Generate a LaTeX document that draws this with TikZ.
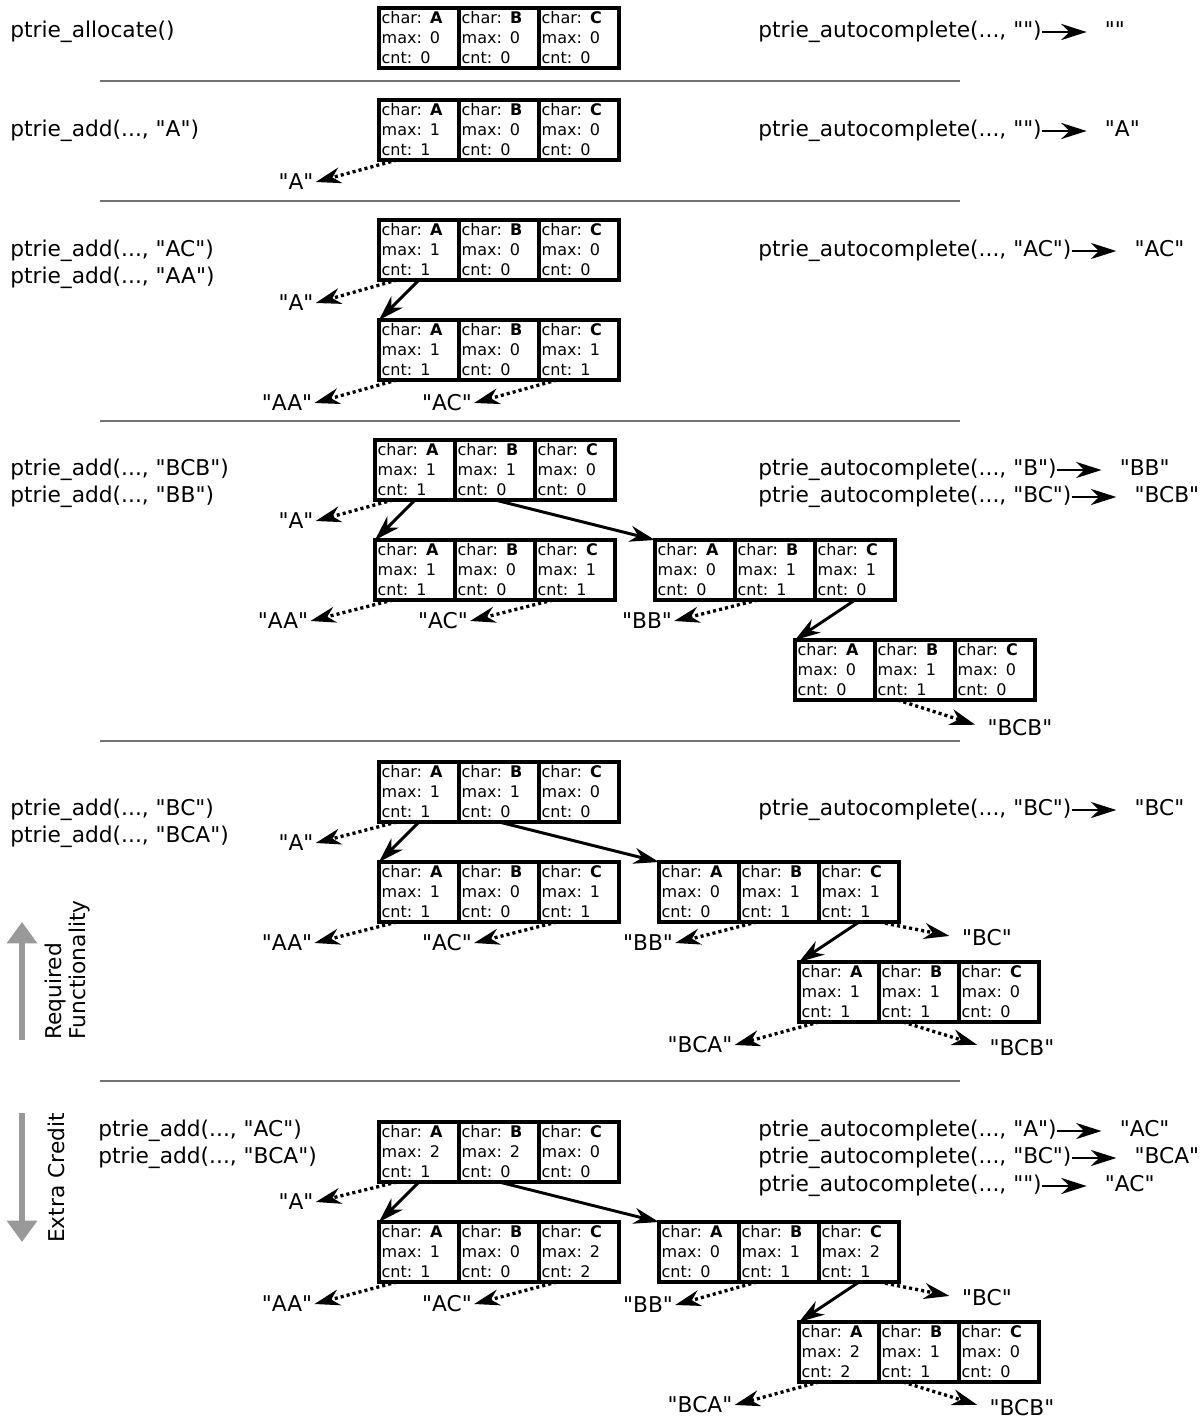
\documentclass[tikz,border=0pt]{standalone}
\usepackage{fontspec}
\setmainfont{DejaVu Sans}[Ligatures=TeXOff]
\usetikzlibrary{arrows.meta,calc}
\tikzset{
 cell/.style={draw, line width=2.6pt, anchor=north west, outer sep=0pt, minimum width=60pt, minimum height=45pt, text width=56pt, inner xsep=2pt, inner ysep=0pt, align=left, font=\fontsize{12}{15}\selectfont},
 big/.style={font=\fontsize{16.3}{20}\selectfont, inner sep=0pt},
 call/.style={big, anchor=west},
 res/.style={big, anchor=base west},
 lbl/.style={big, inner sep=1.5pt},
 tip/.style={-{Stealth[length=19pt,width=12pt,inset=6pt]}},
 child/.style={tip, line width=2.2pt},
 leaf/.style={tip, line width=2.5pt, dash pattern=on 2.3pt off 2.3pt},
 leafr/.style={leaf, shorten >=8pt},
 ret/.style={tip, line width=2.1pt, shorten >=13.5pt},
 sep/.style={line width=1pt, black!55},
 band/.style={line width=4.5pt, black!40, -{Triangle[length=16pt,width=22pt]}},
 bandtext/.style={big, rotate=90, align=left, font=\fontsize{16.3}{18}\selectfont}
}
\newcommand\ptnode[9]{%
  \node[cell] (#1a) at (#2,#3) {char: \textbf{A}\\max: #4\\cnt: #5};
  \node[cell] (#1b) at (#1a.north east) {char: \textbf{B}\\max: #6\\cnt: #7};
  \node[cell] (#1c) at (#1b.north east) {char: \textbf{C}\\max: #8\\cnt: #9};
}
\begin{document}
\begin{tikzpicture}[x=0.75pt,y=-0.75pt]
\useasboundingbox (0,0) rectangle (1200,1427);

% separators
\foreach \yy in {81,201,421,741,1081} \draw[sep] (100,\yy) -- (960,\yy);

% ---------- Section 1
\node[call] (l1) at (10,32) {ptrie\_allocate()};
\ptnode{s1}{379}{8}{0}{0}{0}{0}{0}{0}
\node[call] (c1) at (758,32) {ptrie\_autocomplete(..., "")};
\node[res] (r1) at ([xshift=47pt]c1.base east) {""};
\draw[ret] (c1.east) -- (c1.east -| r1.west);

% ---------- Section 2
\node[call] (l2) at (10,131) {ptrie\_add(..., "A")};
\ptnode{s2}{379}{100}{1}{1}{0}{0}{0}{0}
\node[lbl] (s2l1) at (296,182) {"A"};
\draw[leaf] ([xshift=13.5pt]s2a.south west) -- (s2l1.east);
\node[call] (c2) at (758,131) {ptrie\_autocomplete(..., "")};
\node[res] (r2) at ([xshift=47pt]c2.base east) {"A"};
\draw[ret] (c2.east) -- (c2.east -| r2.west);

% ---------- Section 3
\node[call] (l3a) at (10,251) {ptrie\_add(..., "AC")};
\node[call] (l3b) at (10,278) {ptrie\_add(..., "AA")};
\ptnode{s3}{379}{220}{1}{1}{0}{0}{0}{0}
\ptnode{s3A}{379}{320}{1}{1}{0}{0}{1}{1}
\node[lbl] (s3l1) at (296,303) {"A"};
\node[lbl] (s3l2) at (287,403) {"AA"};
\node[lbl] (s3l3) at (447,403) {"AC"};
\draw[leaf] ([xshift=13.5pt]s3a.south west) -- (s3l1.east);
\draw[child] (s3a.south) -- (s3Aa.north west);
\draw[leaf] ([xshift=13.5pt]s3Aa.south west) -- (s3l2.east);
\draw[leaf] ([xshift=13.5pt]s3Ac.south west) -- (s3l3.east);
\node[call] (c3) at (758,251) {ptrie\_autocomplete(..., "AC")};
\node[res] (r3) at ([xshift=47pt]c3.base east) {"AC"};
\draw[ret] (c3.east) -- (c3.east -| r3.west);

% ---------- Section 4
\node[call] (l4a) at (10,470) {ptrie\_add(..., "BCB")};
\node[call] (l4b) at (10,497) {ptrie\_add(..., "BB")};
\ptnode{s4}{375}{440}{1}{1}{1}{0}{0}{0}
\ptnode{s4A}{375}{540}{1}{1}{0}{0}{1}{1}
\ptnode{s4B}{655}{540}{0}{0}{1}{1}{1}{0}
\ptnode{s4C}{795}{640}{0}{0}{1}{1}{0}{0}
\node[lbl] (s4l1) at (296,521) {"A"};
\node[lbl] (s4l2) at (283,621) {"AA"};
\node[lbl] (s4l3) at (443,621) {"AC"};
\node[lbl] (s4l4) at (647,621) {"BB"};
\node[lbl] (s4l5) at (1020,728) {"BCB"};
\draw[leaf] ([xshift=13.5pt]s4a.south west) -- (s4l1.east);
\draw[child] (s4a.south) -- (s4Aa.north west);
\draw[child] (s4b.south) -- (s4Ba.north west);
\draw[leaf] ([xshift=13.5pt]s4Aa.south west) -- (s4l2.east);
\draw[leaf] ([xshift=13.5pt]s4Ac.south west) -- (s4l3.east);
\draw[leaf] ([xshift=17pt]s4Bb.south west) -- (s4l4.east);
\draw[child] (s4Bc.south) -- (s4Ca.north west);
\draw[leafr] ([xshift=17pt]s4Cb.south west) -- (s4l5.west);
\node[call] (c4a) at (758,470) {ptrie\_autocomplete(..., "B")};
\node[res] (r4a) at ([xshift=47pt]c4a.base east) {"BB"};
\draw[ret] (c4a.east) -- (c4a.east -| r4a.west);
\node[call] (c4b) at (758,497) {ptrie\_autocomplete(..., "BC")};
\node[res] (r4b) at ([xshift=47pt]c4b.base east) {"BCB"};
\draw[ret] (c4b.east) -- (c4b.east -| r4b.west);

% ---------- Section 5
\node[call] (l5a) at (10,810) {ptrie\_add(..., "BC")};
\node[call] (l5b) at (10,837) {ptrie\_add(..., "BCA")};
\ptnode{s5}{379}{762}{1}{1}{1}{0}{0}{0}
\ptnode{s5A}{379}{862}{1}{1}{0}{0}{1}{1}
\ptnode{s5B}{659}{862}{0}{0}{1}{1}{1}{1}
\ptnode{s5C}{799}{962}{1}{1}{1}{1}{0}{0}
\node[lbl] (s5l1) at (296,843) {"A"};
\node[lbl] (s5l2) at (287,943) {"AA"};
\node[lbl] (s5l3) at (447,943) {"AC"};
\node[lbl] (s5l4) at (648,943) {"BB"};
\node[lbl] (s5l5) at (987,938) {"BC"};
\node[lbl] (s5l6) at (700,1045) {"BCA"};
\node[lbl] (s5l7) at (1022,1048) {"BCB"};
\draw[leaf] ([xshift=13.5pt]s5a.south west) -- (s5l1.east);
\draw[child] (s5a.south) -- (s5Aa.north west);
\draw[child] (s5b.south) -- (s5Ba.north west);
\draw[leaf] ([xshift=13.5pt]s5Aa.south west) -- (s5l2.east);
\draw[leaf] ([xshift=13.5pt]s5Ac.south west) -- (s5l3.east);
\draw[leaf] ([xshift=13.5pt]s5Bb.south west) -- (s5l4.east);
\draw[leafr] ([xshift=-15pt]s5Bc.south east) -- (s5l5.west);
\draw[child] (s5Bc.south) -- (s5Ca.north west);
\draw[leaf] ([xshift=15pt]s5Ca.south west) -- (s5l6.east);
\draw[leafr] ([xshift=18pt]s5Cb.south west) -- (s5l7.west);
\node[call] (c5) at (758,810) {ptrie\_autocomplete(..., "BC")};
\node[res] (r5) at ([xshift=47pt]c5.base east) {"BC"};
\draw[ret] (c5.east) -- (c5.east -| r5.west);

% ---------- Section 6
\node[call] (l6a) at (98,1131) {ptrie\_add(..., "AC")};
\node[call] (l6b) at (98,1158) {ptrie\_add(..., "BCA")};
\ptnode{s6}{379}{1122}{2}{1}{2}{0}{0}{0}
\ptnode{s6A}{379}{1222}{1}{1}{0}{0}{2}{2}
\ptnode{s6B}{659}{1222}{0}{0}{1}{1}{2}{1}
\ptnode{s6C}{799}{1322}{2}{2}{1}{1}{0}{0}
\node[lbl] (s6l1) at (296,1202) {"A"};
\node[lbl] (s6l2) at (287,1304) {"AA"};
\node[lbl] (s6l3) at (447,1304) {"AC"};
\node[lbl] (s6l4) at (648,1305) {"BB"};
\node[lbl] (s6l5) at (987,1298) {"BC"};
\node[lbl] (s6l6) at (700,1405) {"BCA"};
\node[lbl] (s6l7) at (1022,1408) {"BCB"};
\draw[leaf] ([xshift=13.5pt]s6a.south west) -- (s6l1.east);
\draw[child] (s6a.south) -- (s6Aa.north west);
\draw[child] (s6b.south) -- (s6Ba.north west);
\draw[leaf] ([xshift=13.5pt]s6Aa.south west) -- (s6l2.east);
\draw[leaf] ([xshift=13.5pt]s6Ac.south west) -- (s6l3.east);
\draw[leaf] ([xshift=13.5pt]s6Bb.south west) -- (s6l4.east);
\draw[leafr] ([xshift=-15pt]s6Bc.south east) -- (s6l5.west);
\draw[child] (s6Bc.south) -- (s6Ca.north west);
\draw[leaf] ([xshift=15pt]s6Ca.south west) -- (s6l6.east);
\draw[leafr] ([xshift=18pt]s6Cb.south west) -- (s6l7.west);
\node[call] (c6a) at (758,1131) {ptrie\_autocomplete(..., "A")};
\node[res] (r6a) at ([xshift=47pt]c6a.base east) {"AC"};
\draw[ret] (c6a.east) -- (c6a.east -| r6a.west);
\node[call] (c6b) at (758,1158) {ptrie\_autocomplete(..., "BC")};
\node[res] (r6b) at ([xshift=47pt]c6b.base east) {"BCA"};
\draw[ret] (c6b.east) -- (c6b.east -| r6b.west);
\node[call] (c6c) at (758,1186) {ptrie\_autocomplete(..., "")};
\node[res] (r6c) at ([xshift=47pt]c6c.base east) {"AC"};
\draw[ret] (c6c.east) -- (c6c.east -| r6c.west);

% ---------- side arrows
\coordinate (up0) at (22,1040);
\coordinate (up1) at (22,922);
\coordinate (dn0) at (22,1113);
\coordinate (dn1) at (22,1242);
\draw[band] (up0) -- (up1);
\draw[band] (dn0) -- (dn1);
\node[bandtext, anchor=west] (req) at (68,1040) {Required\\Functionality};
\node[bandtext] (ext) at (56,1178) {Extra Credit};
\end{tikzpicture}
\end{document}
